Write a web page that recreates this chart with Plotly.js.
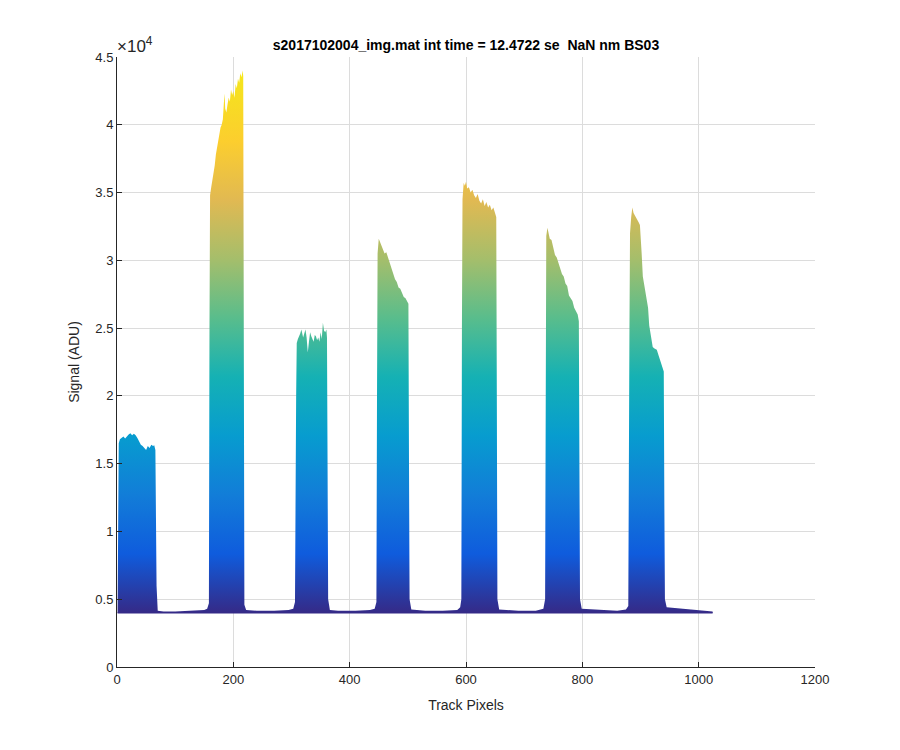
<!DOCTYPE html>
<html>
<head>
<meta charset="utf-8">
<script src="https://cdn.plot.ly/plotly-3.0.1.min.js"></script>
<style>html,body{margin:0;padding:0;background:#fff;}#chart{width:900px;height:750px;}</style>
</head>
<body>
<div id="chart"></div>
<script>
// Upper envelope of the track profiles (track pixel, signal ADU)
const trackPx = [1,2,3,5,8,11,14,17,20,23,26,29,32,35,38,41,44,47,50,53,56,59,62,64,66,67,68,70,80,100,120,140,150,155,158,159,160,162,164,166,168,170,172,174,176,178,180,182,184,185,186,188,190,192,194,196,198,200,202,204,206,208,210,212,214,216,217,218,219,222,240,270,295,303,306,308,309,311,313,315,317,319,320,322,324,326,328,330,332,334,336,338,340,342,344,346,348,350,352,354,356,358,360,361,362,363,366,380,410,435,443,446,447,448,450,452,454,457,460,463,466,469,472,475,478,481,484,487,490,493,496,499,501,502,503,506,530,560,585,590,592,593,594,596,598,600,602,605,608,611,614,617,620,623,626,629,632,635,638,641,644,647,650,652,653,654,657,690,720,733,736,737,738,740,742,744,747,750,753,756,759,762,765,768,771,774,777,780,783,786,789,792,794,795,796,799,830,860,875,879,881,882,884,886,888,891,894,897,899,901,902,904,906,909,911,913,915,917,919,921,924,928,931,933,936,938,940,941,942,945,970,1000,1024];
const signalTop = [4200,13500,16500,16800,16900,17000,16850,17050,17150,17250,17100,17200,17100,16900,16650,16400,16300,16100,16000,16300,16150,16400,16300,16350,16000,11000,6000,4150,4100,4100,4120,4150,4200,4300,4700,25000,34800,35400,35900,36200,37000,37800,38300,38900,39300,39800,40000,40400,41800,42300,41200,40900,41500,42000,41700,42600,42200,42500,42000,43000,42700,43400,43100,43800,43500,44000,43600,20000,4600,4200,4150,4150,4200,4300,4800,20000,23900,24200,24350,24600,24900,24600,24300,24600,24900,24300,23200,24000,24700,24400,24100,24000,24500,24400,24100,24300,24000,24700,24200,25400,24800,24700,24900,24300,15000,5000,4200,4150,4150,4200,4300,4800,20000,30500,31600,31400,31200,30800,30500,30600,30100,29800,29400,29000,28600,28400,28000,27900,27600,27300,27200,27000,26800,15000,5000,4250,4150,4150,4200,4400,5000,25000,34500,35700,35500,35800,35300,35400,35000,35200,34800,34600,34900,34400,34200,34500,34000,34300,33900,34100,33700,33900,33500,33200,20000,5000,4250,4150,4150,4300,5000,25000,31800,32400,32000,31600,31500,30800,30400,30200,29800,29500,29000,28800,28300,28100,27400,27200,27000,26500,26200,26000,25500,15000,5000,4300,4200,4150,4250,4500,25000,32000,33200,33900,33500,33300,33100,32800,32600,31500,30500,28800,28300,27600,27300,26500,25200,24600,24000,23600,23500,23400,23000,22700,22300,21900,21800,12000,5000,4400,4300,4200,4100];
// Lower envelope (dark floor of all profiles)
const lowerPx = [1, 1024];
const lowerSignal = [4000, 4000];
// Axis ticks
const xTicks = [0,200,400,600,800,1000,1200];
const yTickVals = [0,5000,10000,15000,20000,25000,30000,35000,40000,45000];
const yTickText = ['0','0.5','1','1.5','2','2.5','3','3.5','4','4.5'];
const chartTitle = 's2017102004_img.mat int time = 12.4722 se \u00a0NaN nm BS03';

const parula = [
  [0.0,'rgb(53,42,135)'],[0.1,'rgb(15,92,221)'],[0.2,'rgb(18,125,216)'],
  [0.3,'rgb(7,156,207)'],[0.4,'rgb(21,177,180)'],[0.5,'rgb(89,189,140)'],
  [0.6,'rgb(165,190,107)'],[0.7,'rgb(225,185,82)'],[0.8,'rgb(252,206,46)'],
  [0.9,'rgb(245,227,30)'],[1.0,'rgb(249,251,14)']
];

const traces = [
  {x: lowerPx, y: lowerSignal, mode:'lines', line:{color:'#352a87', width:1.5}, hoverinfo:'skip', showlegend:false},
  {x: trackPx, y: signalTop, mode:'lines', line:{width:0, color:'rgba(0,0,0,0)'}, fill:'tonexty',
   fillgradient:{type:'vertical', colorscale: parula, start: 4000, stop: 47500},
   hoverinfo:'skip', showlegend:false}
];

const fontFam = 'Liberation Sans, Arial, Helvetica, sans-serif';
const layout = {
  width: 900, height: 750,
  paper_bgcolor:'#ffffff', plot_bgcolor:'#ffffff',
  margin:{l:117, r:85, t:57, b:83},
  font:{family: fontFam, size:13, color:'#262626'},
  title:{text:'<b>'+chartTitle+'</b>', x:0.5, xref:'paper', xanchor:'center', y:1-45/750, yref:'container', yanchor:'middle', font:{size:14, color:'#000'}},
  xaxis:{range:[0,1200], tickvals:xTicks, ticks:'inside', ticklen:5, tickcolor:'#262626', showline:true, linecolor:'#262626', linewidth:1,
         showgrid:true, gridcolor:'#dcdcdc', gridwidth:1, zeroline:false, mirror:false,
         title:{text:'Track Pixels', font:{size:14}, standoff:14}, tickfont:{size:13}},
  yaxis:{range:[0,45000], tickvals:yTickVals, ticktext:yTickText, ticks:'inside', ticklen:5, tickcolor:'#262626', showline:true, linecolor:'#262626', linewidth:1,
         showgrid:true, gridcolor:'#dcdcdc', gridwidth:1, zeroline:false, mirror:false,
         title:{text:'Signal (ADU)', font:{size:14}, standoff:12}, tickfont:{size:13}},
  annotations:[{text:'\u00d710<sup>4</sup>', xref:'paper', yref:'paper', x:0, y:1, xanchor:'left', yanchor:'bottom', showarrow:false, font:{family: fontFam, size:17, color:'#262626'}, yshift:-1, xshift:-2}]
};

Plotly.newPlot('chart', traces, layout, {staticPlot:true, displayModeBar:false});
</script>
</body>
</html>
